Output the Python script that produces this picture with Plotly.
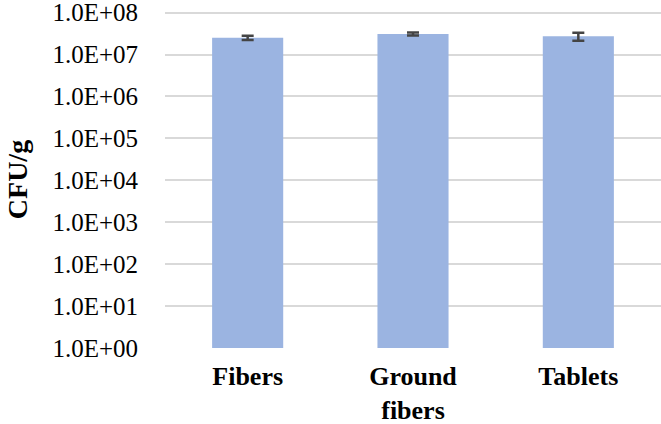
import plotly.graph_objects as go

categories = ["Fibers", "Ground<br>fibers", "Tablets"]
cfu = [2.52e7, 3.1e7, 2.73e7]
cfu_err = [3.0e6, 2.5e6, 6.0e6]

tick_vals = [1e0, 1e1, 1e2, 1e3, 1e4, 1e5, 1e6, 1e7, 1e8]
tick_text = ["1.0E+00", "1.0E+01", "1.0E+02", "1.0E+03", "1.0E+04",
             "1.0E+05", "1.0E+06", "1.0E+07", "1.0E+08"]

serif = "Liberation Serif"

fig = go.Figure()
fig.add_bar(
    x=categories, y=cfu,
    marker=dict(color="#9BB4E1", line=dict(width=0)),
    width=0.43,
    error_y=dict(type="data", array=cfu_err, visible=True,
                 color="#444444", thickness=2.5, width=6),
)

fig.update_layout(
    width=661, height=424,
    margin=dict(l=165, r=0, t=11, b=76),
    paper_bgcolor="white", plot_bgcolor="white",
    showlegend=False,
    font=dict(family=serif, color="black"),
)
fig.update_xaxes(
    showgrid=False, showline=False, ticks="",
    tickfont=dict(family=serif, size=26, weight="bold"),
    ticklabelstandoff=10,
    automargin=False,
)
# top of range a bit past 1e8 so plotly keeps that gridline
fig.update_yaxes(
    type="log", range=[-0.002, 8.04],
    tickvals=tick_vals, ticktext=tick_text,
    tickfont=dict(family=serif, size=25),
    showgrid=True, gridcolor="#D9D9D9", gridwidth=1.5,
    zeroline=False, showline=False, ticks="",
    ticklabelstandoff=26, ticklabeloverflow="allow",
    automargin=False,
)
fig.add_annotation(
    text="<b>CFU/g</b>", textangle=-90,
    xref="paper", yref="paper", x=-0.297, y=0.5,
    xanchor="center", yanchor="middle", showarrow=False,
    font=dict(family=serif, size=28),
)

# drop the default body margin so the figure sits at the window corner
fig.write_html("out.html", config={"displayModeBar": False},
               post_script="document.body.style.margin='0';")
